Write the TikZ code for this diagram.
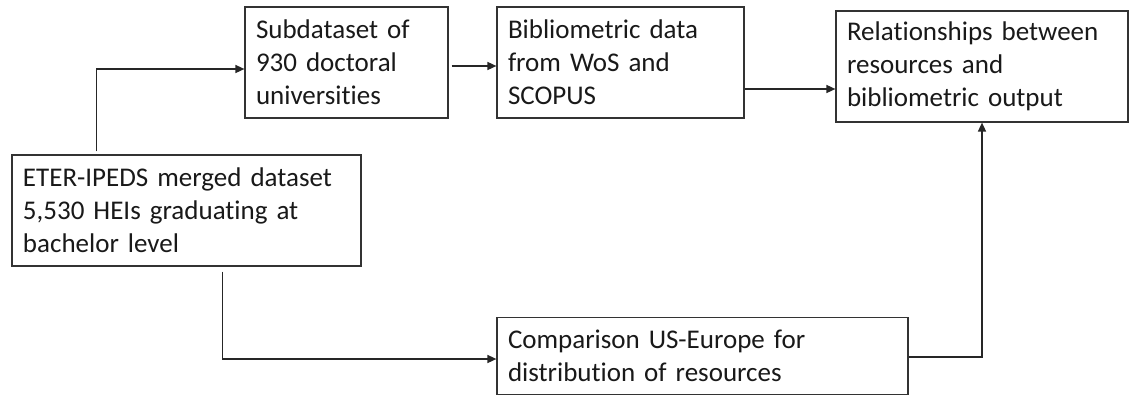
\documentclass[tikz,border=0pt]{standalone}
\usepackage{fontspec}
\setmainfont[Ligatures=NoCommon]{Carlito}
\usetikzlibrary{arrows.meta,calc}
\begin{document}
\begin{tikzpicture}[x=0.5pt,y=-0.5pt,
  box/.style={draw=black!80, line width=0.6pt, fill=white, inner xsep=5.5pt, inner ysep=0pt,
    align=left, font=\fontsize{13.5}{16.5}\selectfont, text=black!90},
  arr/.style={draw=black!85, line width=0.75pt, -{Triangle[length=4.5pt,width=4pt]}}]
\useasboundingbox (0,0) rectangle (1132,396);
\node[box, minimum width=101.5pt, minimum height=55.5pt, text width=90.5pt] (sub) at (346.5,62.5)
  {Subdataset of\\930 doctoral\\universities};
\node[box, minimum width=123.5pt, minimum height=55.5pt, text width=112.5pt] (bib) at (620.5,62.5)
  {Bibliometric data\\from WoS and\\SCOPUS};
\node[box, minimum width=146pt, minimum height=55.5pt, text width=135pt] (rel) at (982,66.5)
  {Relationships between\\resources and\\bibliometric output};
\node[box, minimum width=174.5pt, minimum height=55.5pt, text width=163.5pt] (eter) at (186.5,210.5)
  {ETER-IPEDS merged dataset\\5,530 HEIs graduating at\\bachelor level};
\node[box, minimum width=205.5pt, minimum height=38.5pt, text width=194.5pt] (comp) at (702.5,356)
  {Comparison US-Europe for\\distribution of resources};
\draw[arr] ($(eter.north west)+(85,-3)$) |- ($(sub.west)+(0,6.5)$);
\draw[arr] ($(sub.east)+(3,3.5)$) -- ($(bib.west)+(0,3.5)$);
\draw[arr] ($(bib.east)+(0,26.5)$) -- ($(rel.west)+(0,22.5)$);
\draw[arr] ($(eter.south west)+(211,5)$) |- ($(comp.west)+(0,3)$);
\draw[arr] ($(comp.east)+(0,1)$) -| (rel.south);
\end{tikzpicture}
\end{document}
